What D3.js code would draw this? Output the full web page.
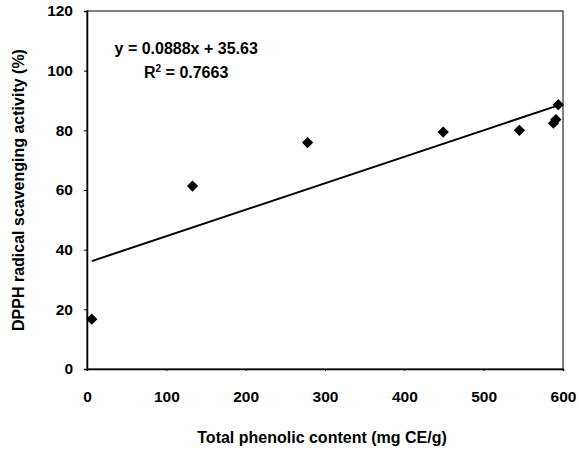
<!DOCTYPE html>
<html>
<head>
<meta charset="utf-8">
<script src="https://cdn.jsdelivr.net/npm/d3@7"></script>
<style>
html, body { margin: 0; padding: 0; background: #fff; }
svg { display: block; font-family: "Liberation Sans", Arial, sans-serif; }
</style>
</head>
<body>
<div id="chart"></div>
<script>
// Data
const phenolic = [6, 133, 278, 449, 545, 588, 591, 594];
const dpph     = [16.7, 61.3, 75.9, 79.4, 80.0, 82.4, 83.6, 88.6];
const slope = 0.0888, intercept = 35.63;
const fitRange = [6, 594];
const xTicks = [0, 100, 200, 300, 400, 500, 600];
const yTicks = [0, 20, 40, 60, 80, 100, 120];
const eqLabel = "y = 0.0888x + 35.63";
const r2Value = "0.7663";
const xTitle = "Total phenolic content (mg CE/g)";
const yTitle = "DPPH radical scavenging activity (%)";

const W = 579, H = 450;
const m = { left: 87, right: 16, top: 11, bottom: 81 };
const iw = W - m.left - m.right, ih = H - m.top - m.bottom;

const svg = d3.select("#chart").append("svg").attr("width", W).attr("height", H);
const g = svg.append("g").attr("transform", `translate(${m.left},${m.top})`);

const x = d3.scaleLinear().domain([0, 600]).range([0, iw]);
const y = d3.scaleLinear().domain([0, 120]).range([ih, 0]);

// frame
g.append("rect").attr("x", 0).attr("y", 0).attr("width", iw).attr("height", ih)
  .attr("fill", "none").attr("stroke", "#000").attr("stroke-width", 1);

// axes
const yAxis = g.append("g").call(d3.axisLeft(y).tickValues(yTicks).tickSize(3).tickPadding(11));
const xAxis = g.append("g").attr("transform", `translate(0,${ih})`)
  .call(d3.axisBottom(x).tickValues(xTicks).tickSize(2).tickPadding(20));
[xAxis, yAxis].forEach(a => {
  a.select(".domain").attr("stroke", "#000").attr("stroke-width", 1.5);
  a.selectAll(".tick line").attr("stroke", "#000");
  a.selectAll(".tick text").attr("fill", "#000").style("font-size", "15.5px")
    .style("font-weight", "bold").style("font-family", '"Liberation Sans", Arial, sans-serif');
});

// regression line
const line = d3.line().x(d => x(d)).y(d => y(slope * d + intercept));
g.append("path").datum(fitRange).attr("d", line)
  .attr("fill", "none").attr("stroke", "#000").attr("stroke-width", 2);

// points (diamonds)
const sym = d3.symbol().type(d3.symbolSquare).size(64);
g.selectAll(".pt").data(phenolic.map((v, i) => [v, dpph[i]])).join("path")
  .attr("class", "pt")
  .attr("d", sym)
  .attr("transform", d => `translate(${x(d[0])},${y(d[1])}) rotate(45)`)
  .attr("fill", "#000");

// equation text
g.append("text").attr("x", x(125)).attr("y", y(105.5)).attr("text-anchor", "middle")
  .style("font-size", "16px").style("font-weight", "bold").text(eqLabel);
const r2 = g.append("text").attr("x", x(125)).attr("y", y(97.5)).attr("text-anchor", "middle")
  .style("font-size", "16px").style("font-weight", "bold");
r2.append("tspan").text("R");
r2.append("tspan").attr("dy", -6).style("font-size", "10px").text("2");
r2.append("tspan").attr("dy", 6).text(" = " + r2Value);

// axis titles
svg.append("text").attr("x", 322).attr("y", 443).attr("text-anchor", "middle")
  .style("font-size", "16px").style("font-weight", "bold").text(xTitle);
svg.append("text").attr("transform", `translate(24,${m.top + ih / 2}) rotate(-90)`)
  .attr("text-anchor", "middle")
  .style("font-size", "16px").style("font-weight", "bold").text(yTitle);
</script>
</body>
</html>
